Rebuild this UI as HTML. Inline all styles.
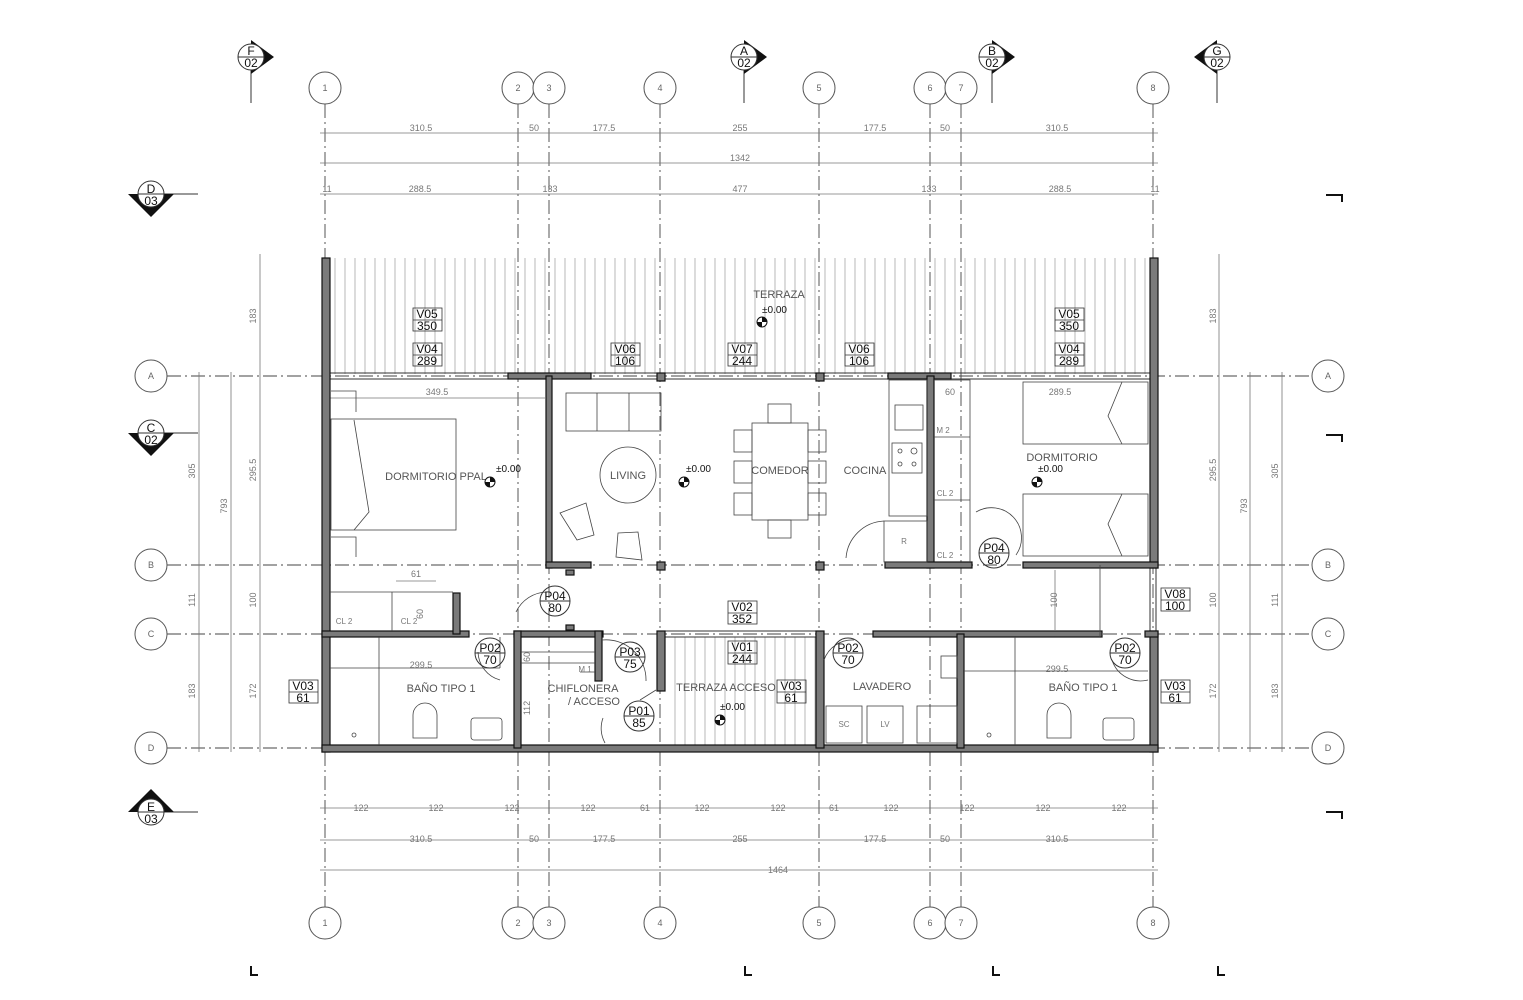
<!DOCTYPE html>
<html><head><meta charset="utf-8"><style>
html,body{margin:0;padding:0;background:#fff}
svg{display:block}
text{font-family:"Liberation Sans",sans-serif}
.g{stroke:#444;stroke-width:.9;fill:none;stroke-dasharray:14 4 2 4}
.d{stroke:#777;stroke-width:.8;fill:none}
.dt{font-size:9px;fill:#777;text-anchor:middle}
.c{fill:#fff;stroke:#555;stroke-width:1}
.ct{font-size:9px;fill:#666;text-anchor:middle}
.w{fill:#7a7a7a;stroke:#111;stroke-width:1.2}
.f{stroke:#444;stroke-width:.8;fill:none}
.rt{font-size:11px;fill:#555;text-anchor:middle}
.tg{font-size:12px;fill:#111;text-anchor:middle}
.sm{font-size:8px;fill:#777;text-anchor:middle}
</style></head><body>
<svg width="1523" height="1000" viewBox="0 0 1523 1000" xmlns="http://www.w3.org/2000/svg">
<defs>
<pattern id="hat" width="10" height="10" patternUnits="userSpaceOnUse"><line x1="5" y1="0" x2="5" y2="10" stroke="#999" stroke-width=".7"/></pattern>
<g id="lv"><circle r="5" fill="#fff" stroke="#111"/><path d="M0 0V-5A5 5 0 0 1 5 0Z M0 0V5A5 5 0 0 1 -5 0Z" fill="#111"/></g>
</defs>
<rect x="330" y="258" width="820" height="116" fill="url(#hat)"/>
<rect x="667" y="637" width="150" height="108" fill="url(#hat)"/>

<g class="g">
<line x1="325" y1="104" x2="325" y2="907"/><line x1="518" y1="104" x2="518" y2="907"/>
<line x1="549" y1="104" x2="549" y2="907"/><line x1="660" y1="104" x2="660" y2="907"/>
<line x1="819" y1="104" x2="819" y2="907"/><line x1="930" y1="104" x2="930" y2="907"/>
<line x1="961" y1="104" x2="961" y2="907"/><line x1="1153" y1="104" x2="1153" y2="907"/>
<line x1="167" y1="376" x2="1312" y2="376"/><line x1="167" y1="565" x2="1312" y2="565"/>
<line x1="167" y1="634" x2="1312" y2="634"/><line x1="167" y1="748" x2="1312" y2="748"/>
</g>
<g>
<circle class="c" cx="325" cy="88" r="16"/><text class="ct" x="325" y="91">1</text>
<circle class="c" cx="518" cy="88" r="16"/><text class="ct" x="518" y="91">2</text>
<circle class="c" cx="549" cy="88" r="16"/><text class="ct" x="549" y="91">3</text>
<circle class="c" cx="660" cy="88" r="16"/><text class="ct" x="660" y="91">4</text>
<circle class="c" cx="819" cy="88" r="16"/><text class="ct" x="819" y="91">5</text>
<circle class="c" cx="930" cy="88" r="16"/><text class="ct" x="930" y="91">6</text>
<circle class="c" cx="961" cy="88" r="16"/><text class="ct" x="961" y="91">7</text>
<circle class="c" cx="1153" cy="88" r="16"/><text class="ct" x="1153" y="91">8</text>
<circle class="c" cx="325" cy="923" r="16"/><text class="ct" x="325" y="926">1</text>
<circle class="c" cx="518" cy="923" r="16"/><text class="ct" x="518" y="926">2</text>
<circle class="c" cx="549" cy="923" r="16"/><text class="ct" x="549" y="926">3</text>
<circle class="c" cx="660" cy="923" r="16"/><text class="ct" x="660" y="926">4</text>
<circle class="c" cx="819" cy="923" r="16"/><text class="ct" x="819" y="926">5</text>
<circle class="c" cx="930" cy="923" r="16"/><text class="ct" x="930" y="926">6</text>
<circle class="c" cx="961" cy="923" r="16"/><text class="ct" x="961" y="926">7</text>
<circle class="c" cx="1153" cy="923" r="16"/><text class="ct" x="1153" y="926">8</text>
<circle class="c" cx="151" cy="376" r="16"/><text class="ct" x="151" y="379">A</text>
<circle class="c" cx="151" cy="565" r="16"/><text class="ct" x="151" y="568">B</text>
<circle class="c" cx="151" cy="634" r="16"/><text class="ct" x="151" y="637">C</text>
<circle class="c" cx="151" cy="748" r="16"/><text class="ct" x="151" y="751">D</text>
<circle class="c" cx="1328" cy="376" r="16"/><text class="ct" x="1328" y="379">A</text>
<circle class="c" cx="1328" cy="565" r="16"/><text class="ct" x="1328" y="568">B</text>
<circle class="c" cx="1328" cy="634" r="16"/><text class="ct" x="1328" y="637">C</text>
<circle class="c" cx="1328" cy="748" r="16"/><text class="ct" x="1328" y="751">D</text>
</g>

<g class="d">
<line x1="320" y1="133" x2="1158" y2="133"/><line x1="320" y1="163" x2="1158" y2="163"/><line x1="320" y1="194" x2="1158" y2="194"/>
<line x1="320" y1="808" x2="1158" y2="808"/><line x1="320" y1="840" x2="1158" y2="840"/><line x1="320" y1="870" x2="1158" y2="870"/>
<line x1="199" y1="372" x2="199" y2="752"/><line x1="231" y1="372" x2="231" y2="752"/><line x1="260" y1="254" x2="260" y2="752"/>
<line x1="1219" y1="254" x2="1219" y2="752"/><line x1="1250" y1="372" x2="1250" y2="752"/><line x1="1282" y1="372" x2="1282" y2="752"/>
<line x1="1055" y1="570" x2="1055" y2="630"/>
<line x1="330" y1="398" x2="545" y2="398"/><line x1="396" y1="581" x2="436" y2="581"/>
</g>
<g class="dt">
<text x="421" y="131">310.5</text><text x="534" y="131">50</text><text x="604" y="131">177.5</text><text x="740" y="131">255</text><text x="875" y="131">177.5</text><text x="945" y="131">50</text><text x="1057" y="131">310.5</text>
<text x="740" y="161">1342</text>
<text x="327" y="192">11</text><text x="420" y="192">288.5</text><text x="550" y="192">133</text><text x="740" y="192">477</text><text x="929" y="192">133</text><text x="1060" y="192">288.5</text><text x="1155" y="192">11</text>
<text x="361" y="811">122</text><text x="436" y="811">122</text><text x="512" y="811">122</text><text x="588" y="811">122</text><text x="645" y="811">61</text><text x="702" y="811">122</text><text x="778" y="811">122</text><text x="834" y="811">61</text><text x="891" y="811">122</text><text x="967" y="811">122</text><text x="1043" y="811">122</text><text x="1119" y="811">122</text>
<text x="421" y="842">310.5</text><text x="534" y="842">50</text><text x="604" y="842">177.5</text><text x="740" y="842">255</text><text x="875" y="842">177.5</text><text x="945" y="842">50</text><text x="1057" y="842">310.5</text>
<text x="778" y="873">1464</text>
<text x="437" y="395">349.5</text><text x="416" y="577">61</text>
<text x="950" y="395">60</text><text x="1060" y="395">289.5</text>
<text x="421" y="668">299.5</text><text x="1057" y="672">299.5</text>
<g transform="rotate(-90)">
<text x="-471" y="195">305</text><text x="-600" y="195">111</text><text x="-691" y="195">183</text>
<text x="-506" y="227">793</text>
<text x="-316" y="256">183</text><text x="-470" y="256">295.5</text><text x="-600" y="256">100</text><text x="-691" y="256">172</text>
<text x="-316" y="1216">183</text><text x="-470" y="1216">295.5</text><text x="-600" y="1216">100</text><text x="-691" y="1216">172</text>
<text x="-506" y="1247">793</text>
<text x="-471" y="1278">305</text><text x="-600" y="1278">111</text><text x="-691" y="1278">183</text>
<text x="-600" y="1057">100</text><text x="-614" y="423">60</text><text x="-657" y="530">60</text><text x="-708" y="530">112</text>
</g>
</g>

<g>
<line x1="251" y1="70" x2="251" y2="103" stroke="#333"/>
<polygon points="251,40 274,57 251,74" fill="#111"/><circle cx="251" cy="57" r="13" fill="#fff" stroke="#333"/><line x1="238" y1="57" x2="264" y2="57" stroke="#333"/>
<text x="251" y="55" class="tg">F</text><text x="251" y="67" class="tg">02</text>
<line x1="744" y1="70" x2="744" y2="103" stroke="#333"/>
<polygon points="744,40 767,57 744,74" fill="#111"/><circle cx="744" cy="57" r="13" fill="#fff" stroke="#333"/><line x1="731" y1="57" x2="757" y2="57" stroke="#333"/>
<text x="744" y="55" class="tg">A</text><text x="744" y="67" class="tg">02</text>
<line x1="992" y1="70" x2="992" y2="103" stroke="#333"/>
<polygon points="992,40 1015,57 992,74" fill="#111"/><circle cx="992" cy="57" r="13" fill="#fff" stroke="#333"/><line x1="979" y1="57" x2="1005" y2="57" stroke="#333"/>
<text x="992" y="55" class="tg">B</text><text x="992" y="67" class="tg">02</text>
<line x1="1217" y1="70" x2="1217" y2="103" stroke="#333"/>
<polygon points="1217,40 1194,57 1217,74" fill="#111"/><circle cx="1217" cy="57" r="13" fill="#fff" stroke="#333"/><line x1="1204" y1="57" x2="1230" y2="57" stroke="#333"/>
<text x="1217" y="55" class="tg">G</text><text x="1217" y="67" class="tg">02</text>
<line x1="164" y1="194" x2="198" y2="194" stroke="#333"/>
<polygon points="128,194 174,194 151,217" fill="#111"/><circle cx="151" cy="194" r="13" fill="#fff" stroke="#333"/><line x1="138" y1="194" x2="164" y2="194" stroke="#333"/>
<text x="151" y="193" class="tg">D</text><text x="151" y="205" class="tg">03</text>
<line x1="164" y1="433" x2="198" y2="433" stroke="#333"/>
<polygon points="128,433 174,433 151,456" fill="#111"/><circle cx="151" cy="433" r="13" fill="#fff" stroke="#333"/><line x1="138" y1="433" x2="164" y2="433" stroke="#333"/>
<text x="151" y="432" class="tg">C</text><text x="151" y="444" class="tg">02</text>
<line x1="164" y1="812" x2="198" y2="812" stroke="#333"/>
<polygon points="128,812 174,812 151,789" fill="#111"/><circle cx="151" cy="812" r="13" fill="#fff" stroke="#333"/><line x1="138" y1="812" x2="164" y2="812" stroke="#333"/>
<text x="151" y="811" class="tg">E</text><text x="151" y="823" class="tg">03</text>
<path d="M1326 195H1342V202M1326 435H1342V442M1326 812H1342V819M251 966V975H258M745 966V975H752M993 966V975H1000M1218 966V975H1225" stroke="#111" stroke-width="2" fill="none"/>
</g>

<g stroke="#333" stroke-width="1" fill="none">
<line x1="330" y1="373" x2="1150" y2="373"/><line x1="330" y1="379" x2="1150" y2="379"/>
<line x1="665" y1="631" x2="817" y2="631"/><line x1="665" y1="637" x2="817" y2="637"/>
<line x1="1150" y1="568" x2="1150" y2="631"/><line x1="1156" y1="568" x2="1156" y2="631"/>
</g>
<g class="w">
<rect x="322" y="258" width="8" height="494"/>
<rect x="1150" y="258" width="8" height="310"/>
<rect x="1150" y="631" width="8" height="121"/>
<rect x="322" y="745" width="836" height="7"/>
<rect x="508" y="373" width="83" height="6"/>
<rect x="546" y="376" width="6" height="192"/>
<rect x="546" y="562" width="45" height="6"/>
<rect x="657" y="373" width="8" height="8"/><rect x="816" y="373" width="8" height="8"/>
<rect x="657" y="562" width="8" height="8"/><rect x="816" y="562" width="8" height="8"/>
<rect x="888" y="373" width="63" height="6"/>
<rect x="927" y="376" width="7" height="192"/>
<rect x="885" y="562" width="87" height="6"/>
<rect x="1023" y="562" width="135" height="6"/>
<rect x="322" y="631" width="147" height="6"/>
<rect x="453" y="593" width="7" height="41"/>
<rect x="514" y="631" width="89" height="6"/>
<rect x="514" y="631" width="7" height="117"/>
<rect x="595" y="631" width="7" height="50"/>
<rect x="657" y="631" width="8" height="60"/>
<rect x="816" y="631" width="8" height="117"/>
<rect x="873" y="631" width="229" height="6"/>
<rect x="957" y="634" width="7" height="114"/>
<rect x="1145" y="631" width="13" height="6"/>
<rect x="566" y="570" width="8" height="5"/><rect x="566" y="625" width="8" height="5"/>
</g>

<g class="f">
<rect x="331" y="419" width="125" height="111"/><path d="M354 420L369 512L354 530"/>
<path d="M331 391H356V412M331 537H356V557"/>
<rect x="566" y="393" width="95" height="38"/><path d="M597 393V431M629 393V431"/>
<circle cx="628" cy="475" r="28"/>
<path d="M560 513L586 503L594 535L577 540Z"/><path d="M618 533L638 532L642 560L616 557Z"/>
<rect x="752" y="423" width="56" height="97"/>
<rect x="768" y="404" width="23" height="19"/><rect x="768" y="520" width="23" height="18"/>
<rect x="734" y="430" width="18" height="22"/><rect x="734" y="461" width="18" height="22"/><rect x="734" y="493" width="18" height="22"/>
<rect x="808" y="430" width="18" height="22"/><rect x="808" y="461" width="18" height="22"/><rect x="808" y="493" width="18" height="22"/>
<rect x="889" y="380" width="38" height="136"/><rect x="895" y="405" width="28" height="25"/>
<rect x="892" y="443" width="30" height="30"/><circle cx="900" cy="451" r="2"/><circle cx="914" cy="451" r="3"/><circle cx="900" cy="464" r="2"/><circle cx="914" cy="464" r="2"/>
<rect x="884" y="521" width="43" height="41"/><path d="M846 558A40 40 0 0 1 884 521"/>
<path d="M934 380H970V562M934 437H970M934 500H970"/>
<rect x="1023" y="382" width="125" height="62"/><path d="M1122 382L1108 416L1122 444"/>
<rect x="1023" y="494" width="125" height="62"/><path d="M1122 494L1108 524L1122 556"/>
<path d="M976 512A30 30 0 0 1 1016 555"/>
<path d="M330 592H453M392 592V631M547 592A35 35 0 0 0 516 612"/>
<path d="M379 637V745M330 668H500"/>
<path d="M413 738V715A12 12 0 0 1 437 715V738Z"/><rect x="471" y="718" width="31" height="22" rx="3"/><circle cx="354" cy="735" r="2"/>
<path d="M500 637V668M478 652A30 30 0 0 0 500 680"/>
<path d="M521 652H595M521 663H595M580 672H595"/>
<path d="M602 640A40 40 0 0 1 646 681M603 718A30 30 0 0 0 605 743M656 690L640 700"/>
<rect x="826" y="706" width="36" height="37"/><rect x="867" y="706" width="36" height="37"/>
<rect x="917" y="706" width="40" height="37"/><rect x="941" y="656" width="16" height="22"/>
<path d="M824 660A30 30 0 0 1 854 640M1015 637V745M964 671H1148"/>
<path d="M1047 738V715A12 12 0 0 1 1071 715V738Z"/><rect x="1103" y="718" width="31" height="22" rx="3"/><circle cx="989" cy="735" r="2"/>
<path d="M1112 660A30 30 0 0 0 1148 680"/>
<path d="M1100 637V565"/>
</g>
<g class="sm">
<text x="344" y="624">CL 2</text><text x="409" y="624">CL 2</text><text x="585" y="672">M 1</text>
<text x="943" y="433">M 2</text><text x="945" y="496">CL 2</text><text x="945" y="558">CL 2</text><text x="904" y="544">R</text>
<text x="844" y="727">SC</text><text x="885" y="727">LV</text>
</g>
<g class="rt">
<text x="779" y="298">TERRAZA</text>
<text x="436" y="480">DORMITORIO PPAL</text>
<text x="628" y="479">LIVING</text>
<text x="780" y="474">COMEDOR</text>
<text x="865" y="474">COCINA</text>
<text x="1062" y="461">DORMITORIO</text>
<text x="441" y="692">BAÑO TIPO 1</text>
<text x="583" y="692">CHIFLONERA</text><text x="594" y="705">/ ACCESO</text>
<text x="726" y="691">TERRAZA ACCESO</text>
<text x="882" y="690">LAVADERO</text>
<text x="1083" y="691">BAÑO TIPO 1</text>
</g>
<g font-size="10" fill="#111">
<text x="762" y="313">±0.00</text><text x="496" y="472">±0.00</text><text x="686" y="472">±0.00</text><text x="1038" y="472">±0.00</text><text x="720" y="710">±0.00</text>
</g>
<use href="#lv" x="762" y="322"/><use href="#lv" x="490" y="482"/><use href="#lv" x="684" y="482"/><use href="#lv" x="1037" y="482"/><use href="#lv" x="720" y="720"/>
<g font-size="12" fill="#111" text-anchor="middle">
<g stroke="#333" fill="none" stroke-width=".8">
<rect x="413" y="308" width="29" height="23"/><rect x="413" y="343" width="29" height="23"/>
<rect x="1055" y="308" width="29" height="23"/><rect x="1055" y="343" width="29" height="23"/>
<rect x="611" y="343" width="29" height="23"/><rect x="728" y="343" width="29" height="23"/><rect x="845" y="343" width="29" height="23"/>
<rect x="728" y="601" width="29" height="23"/><rect x="728" y="641" width="29" height="23"/>
<rect x="777" y="680" width="29" height="23"/><rect x="289" y="680" width="29" height="23"/><rect x="1161" y="680" width="29" height="23"/>
<rect x="1161" y="588" width="29" height="23"/>
<line x1="413" y1="320" x2="442" y2="320"/><line x1="413" y1="355" x2="442" y2="355"/>
<line x1="1055" y1="320" x2="1084" y2="320"/><line x1="1055" y1="355" x2="1084" y2="355"/>
<line x1="611" y1="355" x2="640" y2="355"/><line x1="728" y1="355" x2="757" y2="355"/><line x1="845" y1="355" x2="874" y2="355"/>
<line x1="728" y1="613" x2="757" y2="613"/><line x1="728" y1="653" x2="757" y2="653"/>
<line x1="777" y1="692" x2="806" y2="692"/><line x1="289" y1="692" x2="318" y2="692"/><line x1="1161" y1="692" x2="1190" y2="692"/>
<line x1="1161" y1="600" x2="1190" y2="600"/>
</g>
<text x="427" y="318">V05</text><text x="427" y="330">350</text>
<text x="427" y="353">V04</text><text x="427" y="365">289</text>
<text x="1069" y="318">V05</text><text x="1069" y="330">350</text>
<text x="1069" y="353">V04</text><text x="1069" y="365">289</text>
<text x="625" y="353">V06</text><text x="625" y="365">106</text>
<text x="742" y="353">V07</text><text x="742" y="365">244</text>
<text x="859" y="353">V06</text><text x="859" y="365">106</text>
<text x="742" y="611">V02</text><text x="742" y="623">352</text>
<text x="742" y="651">V01</text><text x="742" y="663">244</text>
<text x="791" y="690">V03</text><text x="791" y="702">61</text>
<text x="303" y="690">V03</text><text x="303" y="702">61</text>
<text x="1175" y="690">V03</text><text x="1175" y="702">61</text>
<text x="1175" y="598">V08</text><text x="1175" y="610">100</text>
</g>
<g font-size="12" fill="#111" text-anchor="middle">
<g fill="none" stroke="#333"><circle cx="555" cy="601" r="15"/><circle cx="490" cy="653" r="15"/><circle cx="630" cy="657" r="15"/><circle cx="639" cy="716" r="15"/><circle cx="848" cy="653" r="15"/><circle cx="1125" cy="653" r="15"/><circle cx="994" cy="553" r="15"/>
<line x1="540" y1="601" x2="570" y2="601"/><line x1="475" y1="653" x2="505" y2="653"/><line x1="615" y1="657" x2="645" y2="657"/><line x1="624" y1="716" x2="654" y2="716"/><line x1="833" y1="653" x2="863" y2="653"/><line x1="1110" y1="653" x2="1140" y2="653"/><line x1="979" y1="553" x2="1009" y2="553"/></g>
<text x="555" y="600">P04</text><text x="555" y="612">80</text>
<text x="490" y="652">P02</text><text x="490" y="664">70</text>
<text x="630" y="656">P03</text><text x="630" y="668">75</text>
<text x="639" y="715">P01</text><text x="639" y="727">85</text>
<text x="848" y="652">P02</text><text x="848" y="664">70</text>
<text x="1125" y="652">P02</text><text x="1125" y="664">70</text>
<text x="994" y="552">P04</text><text x="994" y="564">80</text>
</g>
</svg>
</body></html>
